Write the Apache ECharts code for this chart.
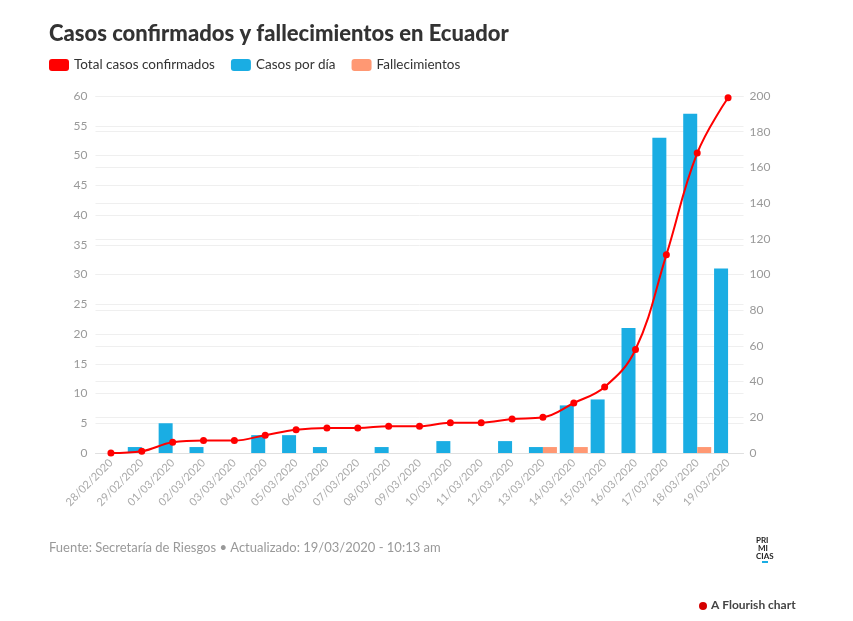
<!DOCTYPE html>
<html><head><meta charset="utf-8">
<script src="https://cdn.jsdelivr.net/npm/echarts@6/dist/echarts.min.js"></script>
<style>html,body{margin:0;padding:0;background:#fff}#c{width:853px;height:621px}</style>
</head><body><div id="c"></div>
<script>
var categories = ["28/02/2020","29/02/2020","01/03/2020","02/03/2020","03/03/2020","04/03/2020","05/03/2020","06/03/2020","07/03/2020","08/03/2020","09/03/2020","10/03/2020","11/03/2020","12/03/2020","13/03/2020","14/03/2020","15/03/2020","16/03/2020","17/03/2020","18/03/2020","19/03/2020"];
var totalCasos = [0,1,6,7,7,10,13,14,14,15,15,17,17,19,20,28,37,58,111,168,199];
var casosPorDia = [0,1,5,1,0,3,3,1,0,1,0,2,0,2,1,8,9,21,53,57,31];
var fallecimientos = [0,0,0,0,0,0,0,0,0,0,0,0,0,0,1,1,0,0,0,1,0];

var font = "Lato,'Noto Sans',sans-serif";
var chart = echarts.init(document.getElementById('c'), null, {renderer:'canvas'});
chart.setOption({
  animation:false,
  textStyle:{fontFamily:font},
  title:{text:'Casos confirmados y fallecimientos en Ecuador',left:44,top:18,
    textStyle:{fontFamily:font,fontSize:22,fontWeight:900,color:'#333'}},
  legend:{left:44,top:53,itemWidth:20,itemHeight:12,itemGap:16,icon:'roundRect',
    textStyle:{fontFamily:font,fontSize:13.5,color:'#333'},
    data:['Total casos confirmados','Casos por día','Fallecimientos']},
  grid:{left:95.5,right:109.5,top:96,bottom:168},
  xAxis:{type:'category',data:categories,boundaryGap:true,
    axisLine:{lineStyle:{color:'#e0e0e0'}},
    axisTick:{alignWithLabel:true,length:5,lineStyle:{color:'#e0e0e0'}},
    axisLabel:{rotate:45,color:'#aaa',fontSize:11,fontFamily:font,margin:8}},
  yAxis:[
    {type:'value',min:0,max:60,interval:5,position:'left',
      axisLine:{show:false},axisTick:{show:false},
      axisLabel:{color:'#999',fontSize:12,fontFamily:font,margin:8},
      splitLine:{lineStyle:{color:'#efefef'}}},
    {type:'value',min:0,max:200,interval:20,position:'right',
      axisLine:{show:false},axisTick:{show:false},
      axisLabel:{color:'#999',fontSize:12,fontFamily:font,margin:6},
      splitLine:{lineStyle:{color:'#efefef'}}}
  ],
  series:[
    {name:'Total casos confirmados',type:'line',yAxisIndex:1,data:totalCasos,smooth:0.4,
      symbol:'circle',symbolSize:7,z:5,
      itemStyle:{color:'#ff0000'},lineStyle:{color:'#ff0000',width:2}},
    {name:'Casos por día',type:'bar',yAxisIndex:0,data:casosPorDia,barWidth:14,barGap:'0%',
      itemStyle:{color:'#1aade3'}},
    {name:'Fallecimientos',type:'bar',yAxisIndex:0,data:fallecimientos,barWidth:14,barGap:'0%',
      itemStyle:{color:'#ff9873'}}
  ],
  graphic:[
    {type:'text',left:49,top:541,style:{text:'Fuente: Secretaría de Riesgos • Actualizado: 19/03/2020 - 10:13 am',
      fill:'#999',font:'13px '+font}},
    {type:'text',left:756,top:536,style:{text:'PRI\n MI\nCIAS',fill:'#222',font:'bold 8px '+font,lineHeight:8}},
    {type:'rect',shape:{x:762,y:561,width:6,height:2},style:{fill:'#1aade3'}},
    {type:'circle',shape:{cx:703,cy:606,r:4},style:{fill:'#d40000'}},
    {type:'text',left:711,top:599,style:{text:'A Flourish chart',fill:'#444',font:'bold 12px '+font}}
  ]
});
</script></body></html>
